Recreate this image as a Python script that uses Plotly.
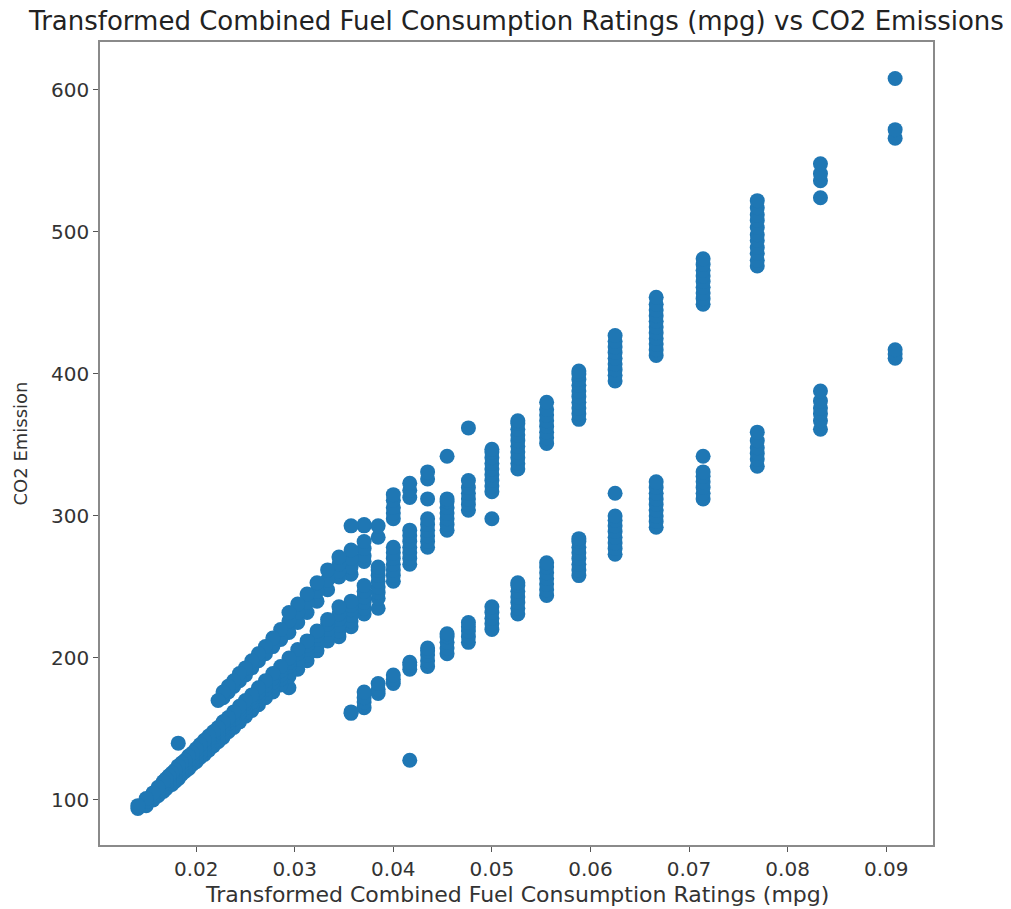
import plotly.graph_objects as go

# Combined fuel consumption (mpg) -> CO2 emissions readings, grouped by mpg column
# main (gasoline) band
main_mpg = [11, 12, 13, 14, 15, 16, 17, 18, 19, 20, 21, 22, 23, 24, 25, 26, 27, 28, 29,
            30, 31, 32, 33, 34, 35, 36, 37, 38, 39, 40, 41, 42, 43, 44, 45, 46, 47, 48,
            49, 50, 51, 52, 53, 54, 55, 56, 57, 58, 59, 60, 62, 64, 67, 71]
main_co2 = [
    [566, 572, 608],
    [524, 536, 541, 548],
    [476, 480, 485, 489, 494, 498, 503, 508, 512, 517, 522],
    [449, 453, 457, 461, 465, 469, 473, 477, 481],
    [413, 417, 421, 425, 429, 433, 437, 441, 445, 449, 454],
    [395, 399, 403, 407, 411, 415, 419, 423, 427],
    [368, 372, 376, 380, 384, 388, 392, 396, 400, 402],
    [351, 355, 359, 363, 367, 371, 375, 380],
    [333, 337, 341, 345, 349, 353, 357, 361, 365, 367],
    [298, 317, 321, 325, 329, 333, 337, 341, 345, 347],
    [304, 308, 312, 316, 320, 325],
    [290, 294, 298, 302, 306, 310, 312],
    [278, 282, 286, 290, 294, 298],
    [266, 270, 274, 278, 282, 286, 290],
    [254, 258, 262, 266, 270, 274, 278],
    [235, 242, 246, 250, 254, 258, 262, 264],
    [231, 235, 239, 243, 247, 251],
    [222, 226, 230, 234, 237, 240],
    [215, 219, 223, 227, 231, 236],
    [212, 216, 220, 224, 227],
    [205, 209, 213, 216, 219],
    [198, 202, 206, 209, 212],
    [192, 196, 199, 203, 206],
    [179, 187, 190, 194, 197, 200],
    [181, 185, 188, 191, 194],
    [176, 180, 183, 186, 189],
    [172, 175, 178, 181, 184],
    [167, 170, 173, 176, 179],
    [163, 166, 169, 172, 174],
    [159, 162, 165, 168, 170],
    [155, 158, 161, 164, 166],
    [151, 154, 157, 160, 162],
    [148, 151, 154, 156, 158],
    [144, 147, 150, 152, 155],
    [141, 144, 147, 149, 151],
    [138, 141, 144, 146, 148],
    [135, 138, 141, 143, 145],
    [132, 135, 138, 140, 142],
    [130, 133, 136, 139],
    [127, 130, 133, 136],
    [125, 128, 131, 133],
    [122, 125, 128, 131],
    [120, 123, 126, 128],
    [118, 121, 124, 126],
    [115, 118, 121, 124, 140],
    [113, 116, 119, 121],
    [111, 114, 117, 119],
    [110, 113, 115, 117],
    [108, 111, 113, 115],
    [106, 109, 111, 113],
    [103, 106, 109],
    [100, 103, 105],
    [96, 99, 101],
    [94, 96],
]

# upper-left (diesel-like) band
upper_mpg = [21, 22, 23, 24, 25, 26, 27, 28, 29, 30, 31, 32, 33, 34, 35, 36, 37, 38,
             39, 40, 41, 42, 43, 44, 45]
upper_co2 = [
    [362],
    [342],
    [312, 326, 331],
    [313, 318, 323],
    [298, 302, 306, 311, 315],
    [285, 293],
    [268, 272, 277, 282, 293, 294],
    [259, 264, 270, 276, 293],
    [257, 261, 266, 271],
    [248, 255, 262],
    [240, 247, 253],
    [232, 239, 245],
    [225, 232, 238],
    [218, 226, 232],
    [213, 220],
    [208, 214],
    [203, 208],
    [198, 203],
    [193, 198],
    [188, 193],
    [184, 189],
    [180, 184],
    [176, 180],
    [172, 176],
    [170],
]

# lower (ethanol-like) band
lower_mpg = [11, 12, 13, 14, 15, 16, 17, 18, 19, 20, 21, 22, 23, 24, 25, 26, 27, 28]
lower_co2 = [
    [411, 414, 417],
    [361, 367, 372, 376, 381, 388],
    [335, 340, 344, 348, 353, 359],
    [312, 316, 320, 324, 328, 331, 342],
    [292, 296, 300, 304, 308, 312, 316, 320, 324],
    [273, 277, 281, 285, 289, 293, 297, 300, 316],
    [258, 262, 266, 270, 274, 278, 282, 284],
    [244, 248, 252, 256, 260, 264, 267],
    [231, 235, 239, 243, 247, 251, 253],
    [220, 224, 228, 232, 236],
    [211, 215, 219, 222, 225],
    [203, 207, 211, 215, 217],
    [194, 198, 202, 205, 207],
    [128, 192, 195, 197],
    [182, 185, 188],
    [175, 178, 182],
    [165, 169, 172, 176],
    [161, 162],
]

x_ticks = [0.02, 0.03, 0.04, 0.05, 0.06, 0.07, 0.08, 0.09]
y_ticks = [100, 200, 300, 400, 500, 600]

xs, ys = [], []
for mpgs, co2s in ((main_mpg, main_co2), (upper_mpg, upper_co2), (lower_mpg, lower_co2)):
    for m, vals in zip(mpgs, co2s):
        for v in vals:
            xs.append(1.0 / m)
            ys.append(v)

# matplotlib-like 5% autoscale margins
xmin, xmax = min(xs), max(xs)
ymin, ymax = min(ys), max(ys)
xr = [xmin - 0.05 * (xmax - xmin), xmax + 0.05 * (xmax - xmin)]
yr = [ymin - 0.05 * (ymax - ymin), ymax + 0.05 * (ymax - ymin)]

fig = go.Figure()
fig.add_trace(go.Scatter(
    x=xs, y=ys, mode="markers",
    marker=dict(size=15, color="#1f77b4", line=dict(width=0)),
    showlegend=False, hoverinfo="skip",
))

font_family = "DejaVu Sans"
axis_common = dict(
    showline=True, linecolor="#8a8a8a", linewidth=1.6, mirror=True,
    showgrid=False, zeroline=False, ticks="outside", ticklen=5, tickwidth=1.2,
    tickcolor="#555555", tickfont=dict(family=font_family, size=20, color="#333333"),
)

fig.update_layout(
    width=1011, height=909,
    paper_bgcolor="white", plot_bgcolor="white",
    margin=dict(l=100, r=78, t=42, b=64),
    xaxis=dict(range=xr, tickvals=x_ticks, ticktext=[f"{t:.2f}" for t in x_ticks], **axis_common),
    yaxis=dict(range=yr, tickvals=y_ticks, **axis_common),
    title=dict(
        text="Transformed Combined Fuel Consumption Ratings (mpg) vs CO2 Emissions",
        x=0.5, xref="paper", xanchor="center",
        y=1 - 21 / 909, yref="container", yanchor="middle",
        font=dict(family=font_family, size=26, color="#222222"),
    ),
    annotations=[
        dict(text="Transformed Combined Fuel Consumption Ratings (mpg)",
             xref="paper", yref="paper", x=0.5, y=-(894 - 845) / (845 - 42),
             xanchor="center", yanchor="middle", showarrow=False,
             font=dict(family=font_family, size=22, color="#333333")),
        dict(text="CO2 Emission", textangle=-90,
             xref="paper", yref="paper", x=-(100 - 20) / (933 - 100), y=0.5,
             xanchor="center", yanchor="middle", showarrow=False,
             font=dict(family=font_family, size=18, color="#333333")),
    ],
)

fig.write_html("out.html")
